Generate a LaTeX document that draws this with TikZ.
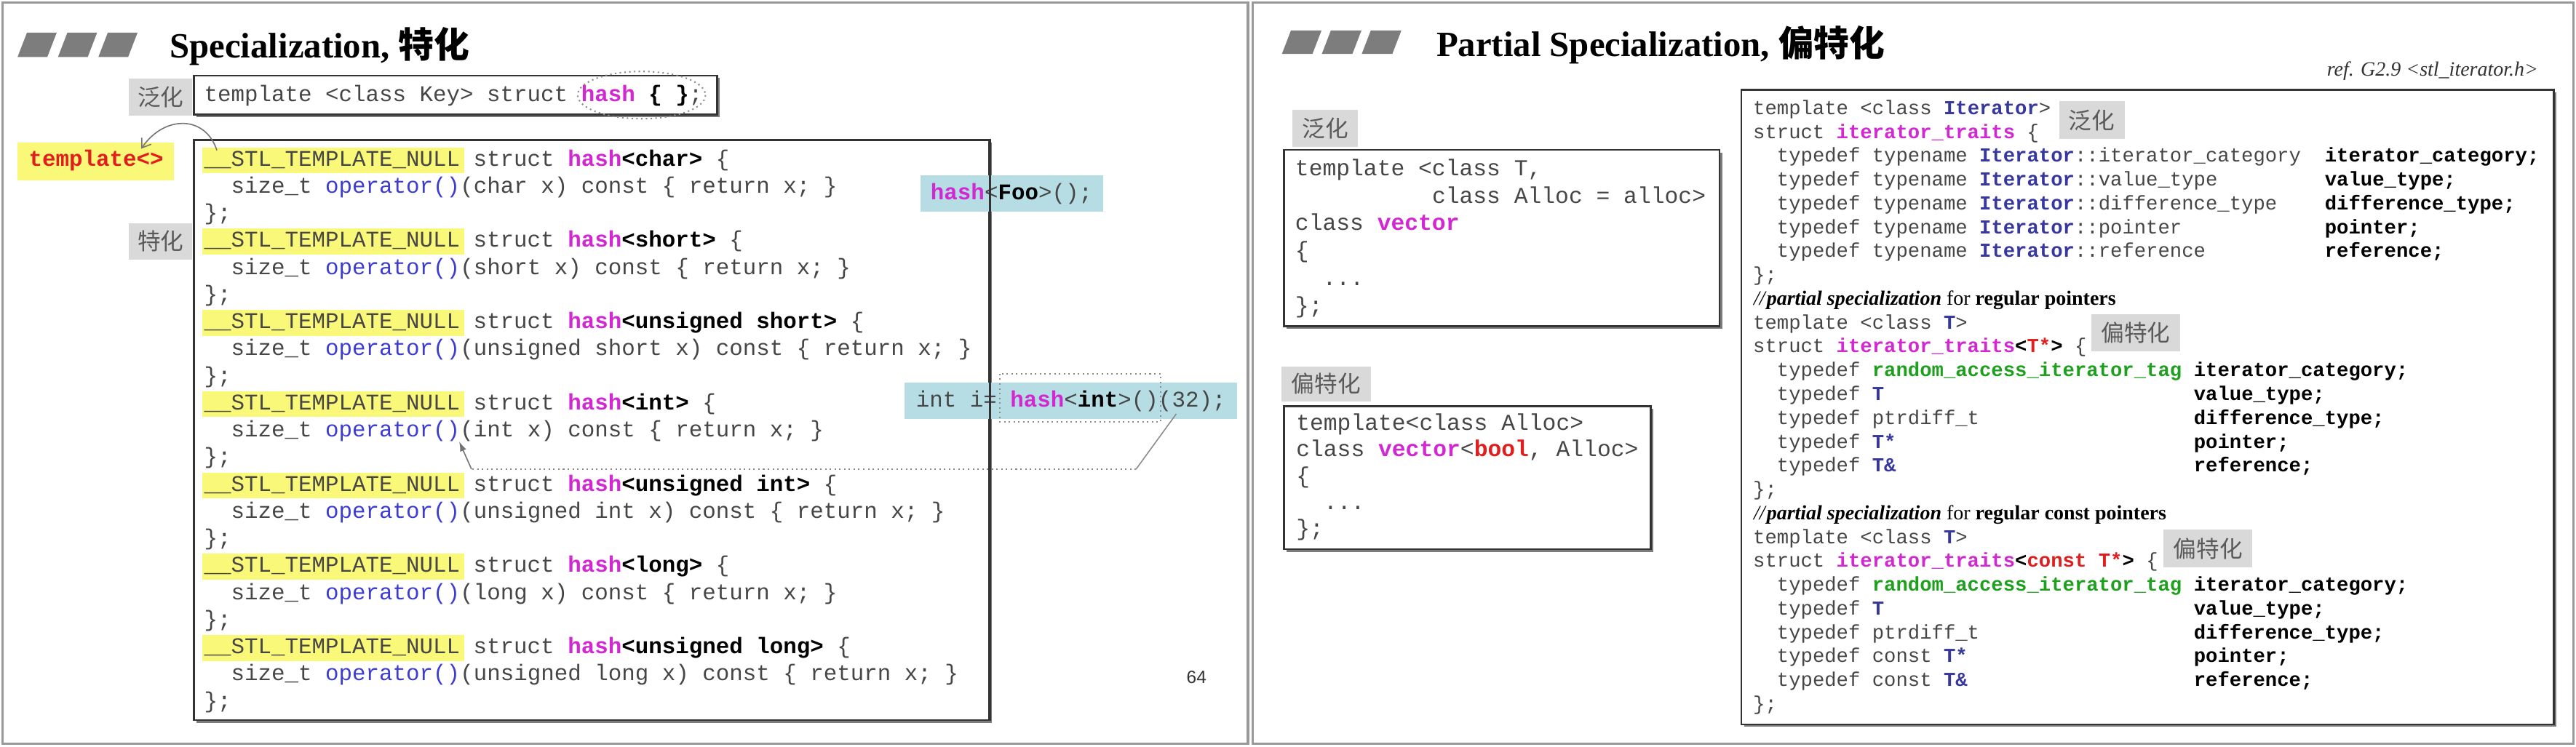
\documentclass[tikz,border=0pt]{standalone}
\usepackage{fontspec}
\setmainfont{Liberation Serif}
\newfontfamily\cjk{Noto Sans CJK SC}
\newfontfamily\mono{Liberation Mono}
\newfontfamily\sansf{Liberation Sans}
\usetikzlibrary{shadows,arrows.meta,fit}
\definecolor{cgray}{RGB}{70,70,70}
\definecolor{mag}{RGB}{210,40,210}
\definecolor{opblue}{RGB}{60,60,210}
\definecolor{itblue}{RGB}{55,55,160}
\definecolor{tgreen}{RGB}{30,160,30}
\definecolor{cred}{RGB}{225,30,30}
\definecolor{hl}{RGB}{250,248,120}
\definecolor{tealc}{RGB}{182,221,228}
\definecolor{lblbg}{RGB}{217,217,217}
\definecolor{lbltx}{RGB}{90,90,90}
\definecolor{bargray}{RGB}{125,125,125}
\newcommand\kh[1]{\textcolor{mag}{\bfseries #1}}
\newcommand\kb[1]{\textcolor{black}{\bfseries #1}}
\newcommand\ko[1]{\textcolor{opblue}{#1}}
\newcommand\ki[1]{\textcolor{itblue}{\bfseries #1}}
\newcommand\kr[1]{\textcolor{cred}{\bfseries #1}}
\newcommand\kg[1]{\textcolor{tgreen}{\bfseries #1}}
\newcommand\LLine[4]{\node[codeL] (#1) at (#2,#3) {#4};}
\newcommand\VLine[4]{\node[codeV] (#1) at (#2,#3) {#4};}
\newcommand\RLine[4]{\node[codeR] (#1) at (#2,#3) {#4};}
\begin{document}
\begin{tikzpicture}[x=0.5pt,y=-0.5pt,
 frame/.style={draw=black!40, line width=0.8pt},
 bar/.style={fill=bargray},
 ttl/.style={anchor=base west, inner sep=0, font=\fontsize{10.8}{12}\selectfont\bfseries},
 cbox/.style={draw=black!80, line width=0.6pt, fill=white, inner sep=0, drop shadow={shadow xshift=0.8pt, shadow yshift=-0.8pt, fill=black!60, opacity=0.85}},
 lbl/.style={fill=lblbg, text=lbltx, inner sep=0, font=\cjk\fontsize{7}{8}\selectfont},
 tealbox/.style={fill=tealc, inner sep=0},
 hlbox/.style={fill=hl, inner sep=0},
 codeL/.style={anchor=base west, inner sep=0, outer sep=0, text=cgray, font=\mono\fontsize{6.83}{8}\selectfont\frenchspacing},
 codeV/.style={codeL, font=\mono\fontsize{6.94}{8}\selectfont\frenchspacing},
 codeR/.style={codeL, font=\mono\fontsize{6.04}{7}\selectfont\frenchspacing},
 cmt/.style={anchor=base west, inner sep=0, font=\fontsize{6.2}{7}\selectfont},
 dotline/.style={draw=black!45, densely dotted, line width=0.45pt},
 thinline/.style={draw=black!45, line width=0.35pt},
]
\useasboundingbox (0,0) rectangle (1568,454.45);
\fill[white] (0,0) rectangle (1568,454.45);
% slide frames
\draw[frame] (1.5,1.5) rectangle (759.5,452.9);
\draw[frame] (762.5,1.5) rectangle (1566.5,452.9);
% title bars
\foreach \xa in {10.7,35.3,59.9}
  \fill[bar] (\xa,34.7) -- (\xa+18.1,34.7) -- (\xa+23.8,19.9) -- (\xa+5.7,19.9) -- cycle;
\foreach \xa in {780.3,804.6,828.9}
  \fill[bar] (\xa,32.8) -- (\xa+18.6,32.8) -- (\xa+24.1,18.5) -- (\xa+5.5,18.5) -- cycle;
\node[ttl] (titleL) at (103,35.4) {Specialization, {\cjk 特化}};
\node[ttl] (titleR) at (874,34.2) {Partial Specialization, {\cjk 偏特化}};

%================ LEFT SLIDE =================
\node[lbl, minimum width=19.25pt, minimum height=11.3pt] (lblGen) at (97.75,59.3) {泛化};
\node[lbl, minimum width=19.25pt, minimum height=11.1pt] (lblSpec) at (97.75,146.9) {特化};
\node[cbox, fit={(118,46) (436.5,69.6)}] (genbox) {};
\LLine{g0}{124.3}{62}{template <class Key> struct \kh{hash} \kb{\{ \}};}
\draw[dotline] (390.5,57.9) ellipse [x radius=38.9, y radius=14.4];

\node[hlbox, fit={(10.7,87) (106,110)}] (tmplbox) {};
\node[codeL] (tmpl) at (17.5,101) {\kr{template<>}};

\node[cbox, fit={(118.1,85.3) (602,438.5)}] (codebox) {};
\foreach \yy in {101,150.5,200,249.5,299,348.5,398}
  \fill[hl] (123,\yy-11.3) rectangle (282.5,\yy+4.5);
\LLine{l0}{124.3}{101}{\_\_STL\_TEMPLATE\_NULL struct \kh{hash}\kb{<char>} \{}
\LLine{l1}{140.7}{117.5}{size\_t \ko{operator()}(char x) const \{ return x; \}}
\LLine{l2}{124.3}{134}{\};}
\LLine{l3}{124.3}{150.5}{\_\_STL\_TEMPLATE\_NULL struct \kh{hash}\kb{<short>} \{}
\LLine{l4}{140.7}{167}{size\_t \ko{operator()}(short x) const \{ return x; \}}
\LLine{l5}{124.3}{183.5}{\};}
\LLine{l6}{124.3}{200}{\_\_STL\_TEMPLATE\_NULL struct \kh{hash}\kb{<unsigned short>} \{}
\LLine{l7}{140.7}{216.5}{size\_t \ko{operator()}(unsigned short x) const \{ return x; \}}
\LLine{l8}{124.3}{233}{\};}
\LLine{l9}{124.3}{249.5}{\_\_STL\_TEMPLATE\_NULL struct \kh{hash}\kb{<int>} \{}
\LLine{l10}{140.7}{266}{size\_t \ko{operator()}(int x) const \{ return x; \}}
\LLine{l11}{124.3}{282.5}{\};}
\LLine{l12}{124.3}{299}{\_\_STL\_TEMPLATE\_NULL struct \kh{hash}\kb{<unsigned int>} \{}
\LLine{l13}{140.7}{315.5}{size\_t \ko{operator()}(unsigned int x) const \{ return x; \}}
\LLine{l14}{124.3}{332}{\};}
\LLine{l15}{124.3}{348.5}{\_\_STL\_TEMPLATE\_NULL struct \kh{hash}\kb{<long>} \{}
\LLine{l16}{140.7}{365}{size\_t \ko{operator()}(long x) const \{ return x; \}}
\LLine{l17}{124.3}{381.5}{\};}
\LLine{l18}{124.3}{398}{\_\_STL\_TEMPLATE\_NULL struct \kh{hash}\kb{<unsigned long>} \{}
\LLine{l19}{140.7}{414.5}{size\_t \ko{operator()}(unsigned long x) const \{ return x; \}}
\LLine{l20}{124.3}{431}{\};}

% arrow from specialization to template<>
\coordinate (aS) at (132,91.5);
\coordinate (aE) at (86,90.5);
\draw[thinline, draw=black!55, -{Straight Barb[length=2.5pt,width=3.5pt]}] (aS) .. controls (125,70) and (100,70) .. (aE);

% teal call boxes
\node[tealbox, fit={(560.5,106.6) (671.6,128.9)}] (foobox) {};
\node[codeL] (footxt) at (566.5,121.4) {\kh{hash}<\kb{Foo}>();};
\node[tealbox, fit={(550.5,233) (752.9,255)}] (intbox) {};
\node[codeL] (inttxt) at (557.6,248) {int i= \kh{hash}<\kb{int}>()(32);};
\draw[draw=black!80, line width=0.6pt] (codebox.north east) -- (codebox.south east);
\draw[dotline] (608.5,227.6) rectangle (706.4,256.9);
% connector (32) -> operator()(int x)
\coordinate (c1) at (716,252);
\coordinate (c2) at (691.5,285.7);
\coordinate (c3) at (287,285.7);
\coordinate (c4) at (279.5,268.8);
\draw[thinline] (c1) -- (c2);
\draw[dotline] (c2) -- (c3);
\draw[thinline, -{Latex[length=3pt,width=2pt]}, draw=black!55] (c3) -- (c4);

\node[inner sep=0, font=\sansf\fontsize{5.4}{6}\selectfont, text=black!80] (pgnum) at (728.3,412.5) {64};

%================ RIGHT SLIDE =================
\node[lbl, minimum width=19.95pt, minimum height=11.3pt] (lblGenR) at (806.65,78) {泛化};
\node[cbox, fit={(781.6,91.2) (1046.6,198.5)}] (vecbox) {};
\VLine{v0}{788.4}{107}{template <class T,}
\VLine{v1}{871.7}{123.7}{class Alloc = alloc>}
\VLine{v2}{788.4}{140.4}{class \kh{vector}}
\VLine{v3}{788.4}{157.1}{\{}
\VLine{v4}{805.1}{173.8}{...}
\VLine{v5}{788.4}{190.5}{\};}

\node[lbl, minimum width=27.2pt, minimum height=10.55pt] (lblPartR) at (807.2,233.75) {偏特化};
\node[cbox, fit={(781.5,247.3) (1004.9,334.4)}] (vbbox) {};
\VLine{b0}{789}{262}{template<class Alloc>}
\VLine{b1}{789}{278.1}{class \kh{vector}<\kr{bool}, Alloc>}
\VLine{b2}{789}{294.2}{\{}
\VLine{b3}{805.7}{310.3}{...}
\VLine{b4}{789}{326.4}{\};}

\node[cmt, font=\fontsize{6.2}{7}\selectfont\itshape, text=black!80] (ref) at (1416,46.5) {ref. G2.9 <stl\_iterator.h>};
\node[cbox, fit={(1059.9,54.6) (1554.6,441.1)}] (itbox) {};
\node[lbl, minimum width=19.95pt, minimum height=11.45pt] (lblGenI) at (1273.25,73.15) {泛化};
\node[lbl, minimum width=27.05pt, minimum height=11.25pt] (lblPartI1) at (1299.95,202.75) {偏特化};
\node[lbl, minimum width=27pt, minimum height=11.55pt] (lblPartI2) at (1344,334.15) {偏特化};

\RLine{r0}{1067.1}{69.70}{template <class \ki{Iterator}>}
\RLine{r1}{1067.1}{84.21}{struct \kh{iterator\_traits} \{}
\RLine{r2}{1081.6}{98.72}{typedef typename \ki{Iterator}::iterator\_category}
\RLine{r2b}{1415.1}{98.72}{\kb{iterator\_category;}}
\RLine{r3}{1081.6}{113.23}{typedef typename \ki{Iterator}::value\_type}
\RLine{r3b}{1415.1}{113.23}{\kb{value\_type;}}
\RLine{r4}{1081.6}{127.74}{typedef typename \ki{Iterator}::difference\_type}
\RLine{r4b}{1415.1}{127.74}{\kb{difference\_type;}}
\RLine{r5}{1081.6}{142.25}{typedef typename \ki{Iterator}::pointer}
\RLine{r5b}{1415.1}{142.25}{\kb{pointer;}}
\RLine{r6}{1081.6}{156.76}{typedef typename \ki{Iterator}::reference}
\RLine{r6b}{1415.1}{156.76}{\kb{reference;}}
\RLine{r7}{1067.1}{171.27}{\};}
\node[cmt] (cm1) at (1067.1,185.78) {{\itshape //}\textbf{\textit{partial specialization}} for \textbf{regular pointers}};
\RLine{r9}{1067.1}{200.29}{template <class \ki{T}>}
\RLine{r10}{1067.1}{214.80}{struct \kh{iterator\_traits}\kb{<}\kr{T*}\kb{>} \{}
\RLine{r11}{1081.6}{229.31}{typedef \kg{random\_access\_iterator\_tag}}
\RLine{r11b}{1335.35}{229.31}{\kb{iterator\_category;}}
\RLine{r12}{1081.6}{243.82}{typedef \ki{T}}
\RLine{r12b}{1335.35}{243.82}{\kb{value\_type;}}
\RLine{r13}{1081.6}{258.33}{typedef ptrdiff\_t}
\RLine{r13b}{1335.35}{258.33}{\kb{difference\_type;}}
\RLine{r14}{1081.6}{272.84}{typedef \ki{T*}}
\RLine{r14b}{1335.35}{272.84}{\kb{pointer;}}
\RLine{r15}{1081.6}{287.35}{typedef \ki{T\&}}
\RLine{r15b}{1335.35}{287.35}{\kb{reference;}}
\RLine{r16}{1067.1}{301.86}{\};}
\node[cmt] (cm2) at (1067.1,316.37) {{\itshape //}\textbf{\textit{partial specialization}} for \textbf{regular const pointers}};
\RLine{r18}{1067.1}{330.88}{template <class \ki{T}>}
\RLine{r19}{1067.1}{345.39}{struct \kh{iterator\_traits}\kb{<}\kr{const T*}\kb{>} \{}
\RLine{r20}{1081.6}{359.90}{typedef \kg{random\_access\_iterator\_tag}}
\RLine{r20b}{1335.35}{359.90}{\kb{iterator\_category;}}
\RLine{r21}{1081.6}{374.41}{typedef \ki{T}}
\RLine{r21b}{1335.35}{374.41}{\kb{value\_type;}}
\RLine{r22}{1081.6}{388.92}{typedef ptrdiff\_t}
\RLine{r22b}{1335.35}{388.92}{\kb{difference\_type;}}
\RLine{r23}{1081.6}{403.43}{typedef const \ki{T*}}
\RLine{r23b}{1335.35}{403.43}{\kb{pointer;}}
\RLine{r24}{1081.6}{417.94}{typedef const \ki{T\&}}
\RLine{r24b}{1335.35}{417.94}{\kb{reference;}}
\RLine{r25}{1067.1}{432.45}{\};}
\end{tikzpicture}
\end{document}
